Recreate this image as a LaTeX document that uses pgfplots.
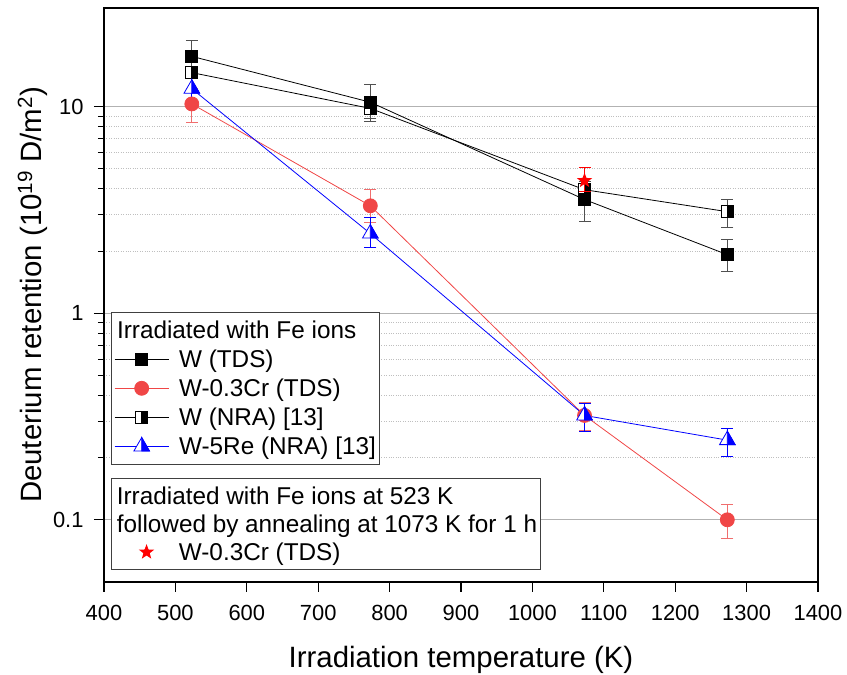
\documentclass[border=0pt]{standalone}
\usepackage{fontspec}
\setmainfont{Liberation Sans}
\usepackage{pgfplots}
\pgfplotsset{compat=1.18}
\usetikzlibrary{plotmarks,shapes.geometric}

\definecolor{crred}{RGB}{240,70,70}
\definecolor{crbar}{RGB}{240,110,110}
\definecolor{wbar}{RGB}{80,80,80}

% half-filled square: left white, right black
\pgfdeclareplotmark{halfsq}{%
  \pgfpathrectangle{\pgfpoint{-\pgfplotmarksize}{-\pgfplotmarksize}}{\pgfpoint{2\pgfplotmarksize}{2\pgfplotmarksize}}%
  \pgfsetfillcolor{white}\pgfusepathqfillstroke
  \pgfpathrectangle{\pgfpoint{0pt}{-\pgfplotmarksize}}{\pgfpoint{\pgfplotmarksize}{2\pgfplotmarksize}}%
  \pgfsetfillcolor{black}\pgfusepathqfillstroke
}
% half-filled triangle: left white, right blue
\pgfdeclareplotmark{halftri}{%
  \pgfpathmoveto{\pgfpoint{0pt}{\pgfplotmarksize}}%
  \pgfpathlineto{\pgfpoint{-0.866\pgfplotmarksize}{-0.5\pgfplotmarksize}}%
  \pgfpathlineto{\pgfpoint{0.866\pgfplotmarksize}{-0.5\pgfplotmarksize}}%
  \pgfpathclose
  \pgfsetfillcolor{white}\pgfusepathqfillstroke
  \pgfpathmoveto{\pgfpoint{0pt}{\pgfplotmarksize}}%
  \pgfpathlineto{\pgfpoint{0pt}{-0.5\pgfplotmarksize}}%
  \pgfpathlineto{\pgfpoint{0.866\pgfplotmarksize}{-0.5\pgfplotmarksize}}%
  \pgfpathclose
  \pgfsetfillcolor{blue}\pgfusepathqfillstroke
}
% filled five-pointed star
\pgfdeclareplotmark{fstar}{%
  \node[star, star points=5, star point ratio=2.4, fill=red, draw=none,
        inner sep=0pt, minimum size=2\pgfplotmarksize] {};
}

\begin{document}
\begin{tikzpicture}
\begin{axis}[
  width=714bp, height=574bp, scale only axis,
  xmin=400, xmax=1400, ymode=log, ymin=0.05, ymax=30,
  tick pos=left, tick align=outside,
  major tick length=10bp, minor tick length=6bp,
  /pgf/number format/assume math mode=true,
  /pgf/number format/1000 sep={},
  tick label style={font=\fontsize{22}{26}\selectfont},
  xticklabel style={yshift=-10bp},
  yticklabel style={xshift=-7bp},
  legend cell align=left,
  axis line style={line width=1.4pt},
  every tick/.style={black, line width=1.2pt},
  minor tick style={line width=0.9pt},
  xtick={400,500,...,1400},
  ytick={0.1,1,10}, yticklabels={0.1,1,10},
  ymajorgrids, yminorgrids,
  major grid style={draw=black!30, line width=0.8pt},
  minor grid style={draw=black!25, dotted, line width=0.8pt},
  xlabel={Irradiation temperature (K)},
  ylabel={Deuterium retention (10\textsuperscript{19} D/m\textsuperscript{2})},
  label style={font=\fontsize{29.5}{34}\selectfont},
  xlabel style={yshift=-18bp},
  ylabel style={yshift=-1bp},
  legend image code/.code={\draw[mark repeat=2,mark phase=2] plot coordinates {(0bp,0bp)(27bp,0bp)(54bp,0bp)};},
  legend style={at={(0.0098,0.47)}, anchor=north west, draw=black!75, line width=0.6pt,
    font=\fontsize{24.4}{29}\selectfont, inner xsep=3bp, inner ysep=8bp,
    nodes={inner sep=0pt}, column sep=10bp, row sep=10bp},
]
\addlegendimage{empty legend}
\addlegendentry{\hspace{-62bp}Irradiated with Fe ions}

% W (NRA) [13]
\addplot[black, line width=0.8pt, mark=halfsq, mark size=6bp, forget plot,
  error bars/.cd, y dir=both, y explicit,
  error bar style={wbar, line width=1pt},
  error mark options={rotate=90, mark size=6bp, wbar, line width=1pt}]
coordinates {
  (523,14.6) += (0,1.0) -= (0,1.0)
  (773,9.8) += (0,1.0) -= (0,1.0)
  (1073,3.96) += (0,0.4) -= (0,0.4)
  (1273,3.10) += (0,0.45) -= (0,0.5)
};
% W (TDS)
\addplot[black, line width=0.8pt, mark=square*, mark size=6bp,
  error bars/.cd, y dir=both, y explicit,
  error bar style={wbar, line width=1pt},
  error mark options={rotate=90, mark size=6bp, wbar, line width=1pt}]
coordinates {
  (523,17.5) += (0,3.4) -= (0,2.5)
  (773,10.5) += (0,2.3) -= (0,2.0)
  (1073,3.55) += (0,0.6) -= (0,0.78)
  (1273,1.92) += (0,0.35) -= (0,0.33)
};
\addlegendentry{W (TDS)}
% W-0.3Cr (TDS)
\addplot[crred, line width=0.8pt, mark=*, mark size=7bp, mark options={fill=crred, draw=crred},
  error bars/.cd, y dir=both, y explicit,
  error bar style={crbar, line width=1pt},
  error mark options={rotate=90, mark size=6bp, crbar, line width=1pt}]
coordinates {
  (523,10.3) += (0,1.9) -= (0,1.9)
  (773,3.31) += (0,0.66) -= (0,0.56)
  (1073,0.32) += (0,0.05) -= (0,0.05)
  (1273,0.100) += (0,0.018) -= (0,0.019)
};
\addlegendentry{W-0.3Cr (TDS)}
\addlegendimage{black, line width=0.8pt, mark=halfsq, mark size=6bp}
\addlegendentry{W (NRA) [13]}
% W-5Re (NRA) [13]
\addplot[blue, line width=0.8pt, mark=halftri, mark size=9bp,
  error bars/.cd, y dir=both, y explicit,
  error bar style={blue, line width=1pt},
  error mark options={rotate=90, mark size=6bp, blue, line width=1pt}]
coordinates {
  (523,12.2) += (0,1.7) -= (0,1.8)
  (773,2.43) += (0,0.47) -= (0,0.36)
  (1073,0.32) += (0,0.047) -= (0,0.052)
  (1273,0.243) += (0,0.034) -= (0,0.04)
};
\addlegendentry{W-5Re (NRA) [13]}
\coordinate (bl) at (rel axis cs:0,0);
\coordinate (tr) at (rel axis cs:1,1);
\end{axis}

\begin{axis}[
  width=714bp, height=574bp, scale only axis,
  xmin=400, xmax=1400, ymode=log, ymin=0.05, ymax=30,
  hide axis,
  legend cell align=left,
  legend image code/.code={\path (0bp,0bp) (54bp,0bp); \draw[only marks, mark repeat=3, mark phase=2] plot coordinates {(0bp,0bp)(27bp,0bp)(54bp,0bp)};},
  legend style={at={(0.0098,0.181)}, anchor=north west, draw=black!75, line width=0.6pt,
    font=\fontsize{24.4}{29}\selectfont, inner xsep=3bp, inner ysep=8bp,
    nodes={inner sep=0pt}, column sep=10bp, row sep=9bp},
]
\addlegendimage{empty legend}
\addlegendentry{\hspace{-62bp}Irradiated with Fe ions at 523 K}
\addlegendimage{empty legend}
\addlegendentry{\hspace{-62bp}followed by annealing at 1073 K for 1 h}
\addplot[red, only marks, mark=fstar, mark size=8bp,
  error bars/.cd, y dir=both, y explicit,
  error bar style={red, line width=1pt},
  error mark options={rotate=90, mark=-, mark size=6bp, red, line width=1pt}]
coordinates {
  (1073,4.38) += (0,0.69) -= (0,0.5)
};
\addlegendentry{W-0.3Cr (TDS)}
\end{axis}

\pgfresetboundingbox
\path (bl) ++(-104bp,-93bp) coordinate (p1);
\path (tr) ++(29bp,8bp) coordinate (p2);
\useasboundingbox (p1) rectangle (p2);
\end{tikzpicture}
\end{document}
